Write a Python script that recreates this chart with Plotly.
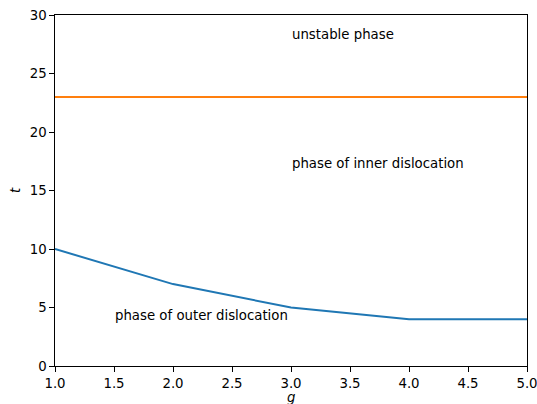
import plotly.graph_objects as go

g_vals = [1, 2, 3, 4, 5]
t_outer = [10, 7, 5, 4, 4]
t_inner = [23, 23, 23, 23, 23]

labels = ["unstable phase", "phase of inner dislocation", "phase of outer dislocation"]
label_x = [3.0, 3.0, 1.5]
label_y = [28, 17, 4]

x_ticks = [1.0, 1.5, 2.0, 2.5, 3.0, 3.5, 4.0, 4.5, 5.0]
y_ticks = [0, 5, 10, 15, 20, 25, 30]

font = "DejaVu Sans"
fig = go.Figure()
fig.add_trace(go.Scatter(x=g_vals, y=t_outer, mode="lines",
                         line=dict(color="#1f77b4", width=2), showlegend=False))
fig.add_trace(go.Scatter(x=g_vals, y=t_inner, mode="lines",
                         line=dict(color="#ff7f0e", width=2), showlegend=False))

for txt, x, y in zip(labels, label_x, label_y):
    fig.add_annotation(x=x, y=y, text=txt, showarrow=False, xanchor="left",
                       yanchor="bottom", yshift=-6, xshift=-1,
                       font=dict(family=font, size=13.3, color="black"))

# x-axis title
fig.add_annotation(x=0.5, y=0, xref="paper", yref="paper", text="<i>g</i>",
                   showarrow=False, xanchor="center", yanchor="top", yshift=-22,
                   font=dict(family=font, size=13.3, color="black"))

axis_common = dict(showline=True, linecolor="black", linewidth=1, mirror=True,
                   ticks="outside", ticklen=4.7, tickwidth=1, tickcolor="black",
                   showgrid=False, zeroline=False, automargin=False,
                   ticklabeloverflow="allow",
                   tickfont=dict(family=font, size=13.3, color="black"))

fig.update_xaxes(range=[1, 5], tickvals=x_ticks,
                 ticktext=[f"{v:.1f}" for v in x_ticks],
                 **axis_common)
fig.update_yaxes(range=[0, 30], tickvals=y_ticks,
                 ticktext=[str(v) for v in y_ticks],
                 title=dict(text="<i>t</i>", font=dict(family=font, size=13.3, color="black"), standoff=6),
                 **axis_common)

fig.update_layout(width=537, height=404, margin=dict(l=55, r=10, t=15, b=38),
                  plot_bgcolor="white", paper_bgcolor="white")
fig.write_html("out.html")
